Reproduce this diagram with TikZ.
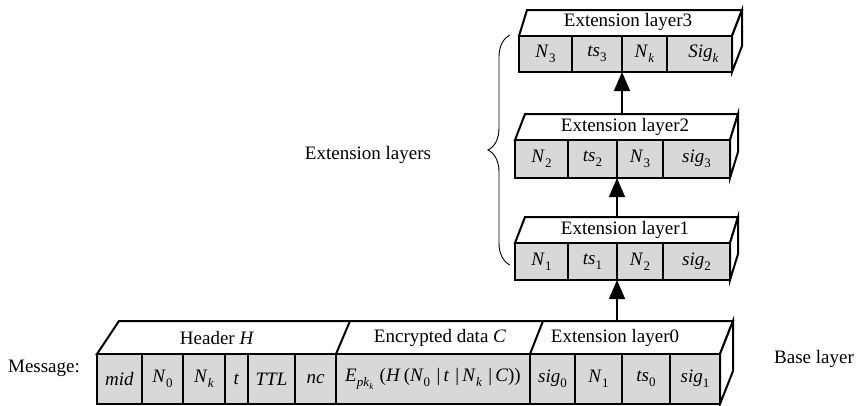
\documentclass[tikz,border=0pt]{standalone}
\usepackage{fontspec}
\setmainfont{Liberation Serif}
\usetikzlibrary{arrows.meta,decorations.pathreplacing}
\definecolor{cellgray}{RGB}{216,216,216}
\newcommand\lo[1]{\raisebox{-0.25em}{\fontsize{13}{13}\selectfont #1}}
\newcommand\llo[1]{\raisebox{-0.2em}{\fontsize{9}{9}\selectfont #1}}
\newcommand\cellnode[6]{\node[cell, minimum width=#3pt-#2pt, minimum height=#5pt-#4pt, anchor=south west] (#1) at (#2,#5) {#6};}
\begin{document}
\begin{tikzpicture}[x=1pt,y=-1pt,
  font=\fontsize{19}{22}\selectfont,
  cell/.style={draw, fill=cellgray, line width=2pt, inner sep=0pt, outer sep=0pt},
  face/.style={draw, fill=white, line width=2pt, line join=miter},
  lbl/.style={inner sep=0pt},
  arr/.style={line width=1.6pt, -{Triangle[length=19pt,width=16pt]}},
  brc/.style={line width=0.9pt, decorate, decoration={brace, amplitude=22pt}}]
\useasboundingbox (0,0) rectangle (857,405);

% ---------- Base layer ----------
\draw[face] (97,354) -- (119,321) -- (733,321) -- (720,354) -- cycle;
\draw[face] (336,354) -- (350,321);
\draw[face] (530,354) -- (543,321);
\draw[face] (720,354) -- (733,321) -- (733,371) -- (720,404) -- cycle;
\node[lbl] (hdr) at (217,338) {Header \textit{H}};
\node[lbl] (enc) at (440,338) {Encrypted data \textit{C}};
\node[lbl] (ext0) at (615,338) {Extension layer0};
\cellnode{mid}{97}{142}{354}{404}{\textit{mid}}
\cellnode{nzero}{142}{183}{354}{404}{\textit{N}\lo{0}}
\cellnode{nk}{183}{225}{354}{404}{\textit{N}\lo{\textit{k}}}
\cellnode{tt}{225}{248}{354}{404}{\textit{t}}
\cellnode{ttl}{248}{295}{354}{404}{\textit{TTL}}
\cellnode{nc}{295}{336}{354}{404}{\textit{nc}}
\cellnode{encd}{336}{530}{354}{404}{\textit{E}\lo{\textit{pk}\llo{\textit{k}}}\,\,(\textit{H}\,(\textit{N}\lo{0}\,\,|\,\textit{t}\,\,|\,\textit{N}\lo{\textit{k}}\,\,|\,\textit{C}))}
\cellnode{sigzero}{530}{575}{354}{404}{\textit{sig}\lo{0}}
\cellnode{none}{575}{622}{354}{404}{\textit{N}\lo{1}}
\cellnode{tszero}{622}{670}{354}{404}{\textit{ts}\lo{0}}
\cellnode{sigone}{670}{720}{354}{404}{\textit{sig}\lo{1}}

% ---------- Extension layer1 ----------
\draw[face] (515,243) -- (525,217) -- (738,217) -- (730,243) -- cycle;
\draw[face] (730,243) -- (738,217) -- (738,254) -- (730,280) -- cycle;
\node[lbl] (lab1) at (625,230) {Extension layer1};
\cellnode{la}{515}{568}{243}{280}{\textit{N}\lo{1}}
\cellnode{lb}{568}{617}{243}{280}{\textit{ts}\lo{1}}
\cellnode{lc}{617}{663}{243}{280}{\textit{N}\lo{2}}
\cellnode{ld}{663}{730}{243}{280}{\textit{sig}\lo{2}}

% ---------- Extension layer2 ----------
\draw[face] (515,140) -- (525,114) -- (738,114) -- (730,140) -- cycle;
\draw[face] (730,140) -- (738,114) -- (738,152) -- (730,178) -- cycle;
\node[lbl] (lab2) at (625,127) {Extension layer2};
\cellnode{ma}{515}{568}{140}{178}{\textit{N}\lo{2}}
\cellnode{mb}{568}{617}{140}{178}{\textit{ts}\lo{2}}
\cellnode{mc}{617}{663}{140}{178}{\textit{N}\lo{3}}
\cellnode{md}{663}{730}{140}{178}{\textit{sig}\lo{3}}

% ---------- Extension layer3 ----------
\draw[face] (519,36) -- (527,10) -- (742,10) -- (732,36) -- cycle;
\draw[face] (732,36) -- (742,10) -- (742,46) -- (732,72) -- cycle;
\node[lbl] (lab3) at (628,22) {Extension layer3};
\cellnode{ta}{519}{572}{36}{72}{\textit{N}\lo{3}}
\cellnode{tb}{572}{622}{36}{72}{\textit{ts}\lo{3}}
\cellnode{tc}{622}{667}{36}{72}{\textit{N}\lo{\textit{k}}}
\cellnode{td}{667}{732}{36}{72}{\hspace*{8pt}\textit{Sig}\lo{\textit{k}}}

% ---------- Arrows ----------
\coordinate (s0) at (617,321);
\coordinate (s1) at (617,217);
\coordinate (s2) at (622,114);
\draw[arr] (s0) -- (lb.south east);
\draw[arr] (s1) -- (mb.south east);
\draw[arr] (s2) -- (tb.south east);

% ---------- Brace and labels ----------
\coordinate (bb) at (510,265);
\coordinate (bt) at (510,35);
\draw[brc] (bb) -- (bt);
\node[lbl] (extl) at (368,155) {Extension layers};
\node[lbl] (msg) at (44,368) {Message:};
\node[lbl] (basel) at (814,359) {Base layer};
\end{tikzpicture}
\end{document}
